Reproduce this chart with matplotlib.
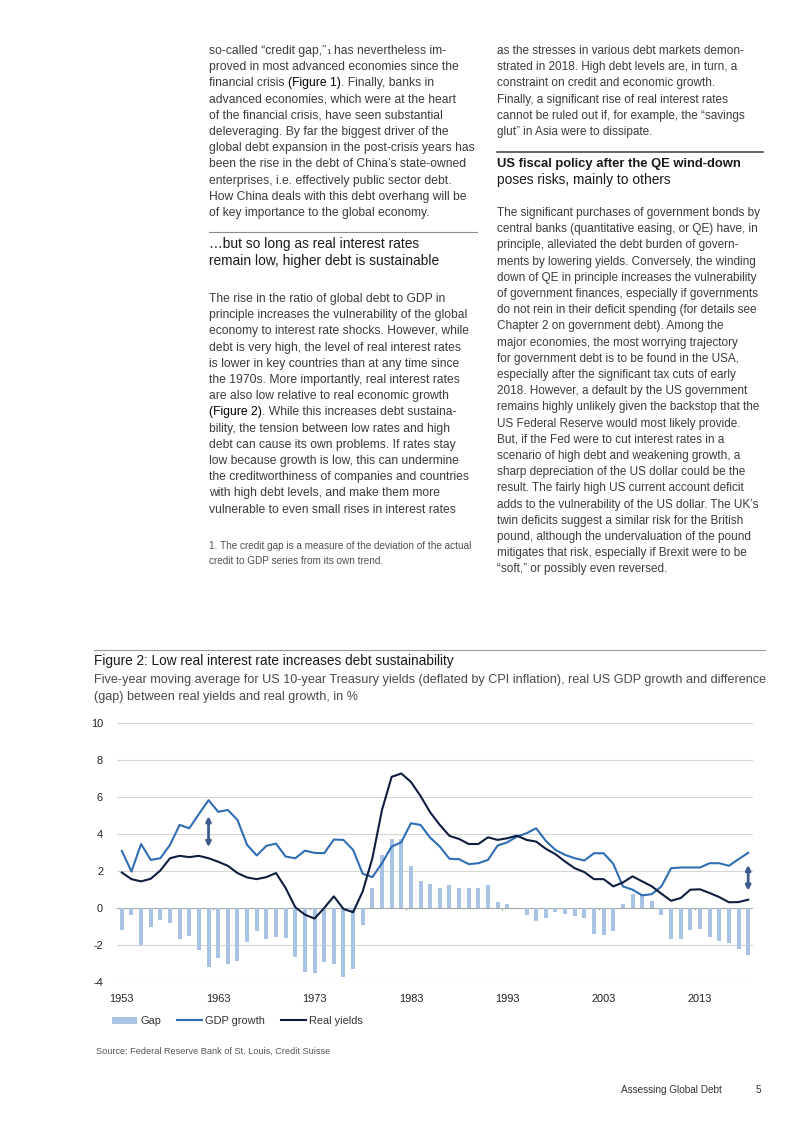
import matplotlib
matplotlib.use('Agg')
import matplotlib.pyplot as plt
import numpy as np

# page size in pixels
W, H = 802, 1133

years = list(range(1953, 2019))
gap = [-1.17, -0.40, -2.00, -1.00, -0.66, -0.80, -1.67, -1.53, -2.25, -3.20,
       -2.70, -3.00, -2.85, -1.83, -1.27, -1.67, -1.58, -1.63, -2.64, -3.45,
       -3.54, -2.90, -3.05, -3.75, -3.30, -0.92, 1.10, 2.87, 3.75, 3.73,
       2.26, 1.47, 1.31, 1.10, 1.24, 1.10, 1.10, 1.08, 1.24, 0.32,
       0.23, -0.02, -0.36, -0.72, -0.54, -0.23, -0.30, -0.41, -0.54, -1.40,
       -1.45, -1.24, 0.23, 0.75, 0.75, 0.36, -0.36, -1.70, -1.65, -1.18,
       -1.15, -1.56, -1.76, -1.90, -2.24, -2.55]
gdp = [3.09, 1.97, 3.46, 2.60, 2.69, 3.41, 4.49, 4.31, 5.08, 5.83,
       5.20, 5.30, 4.76, 3.41, 2.84, 3.36, 3.48, 2.78, 2.69, 3.10,
       2.98, 2.96, 3.70, 3.68, 3.14, 1.85, 1.67, 2.42, 3.32, 3.55,
       4.58, 4.49, 3.80, 3.32, 2.66, 2.64, 2.37, 2.42, 2.60, 3.38,
       3.55, 3.86, 4.04, 4.31, 3.63, 3.14, 2.87, 2.69, 2.57, 2.96,
       2.96, 2.39, 1.17, 0.99, 0.68, 0.75, 1.17, 2.15, 2.19, 2.19,
       2.19, 2.42, 2.42, 2.28, 2.64, 2.98]
real_yields = [1.92, 1.56, 1.44, 1.58, 2.03, 2.69, 2.82, 2.75, 2.82, 2.69,
               2.50, 2.28, 1.89, 1.65, 1.56, 1.67, 1.89, 1.08, 0.04, -0.36,
               -0.57, 0.00, 0.63, -0.05, -0.23, 0.90, 2.69, 5.30, 7.09, 7.27,
               6.82, 6.05, 5.17, 4.49, 3.90, 3.73, 3.46, 3.46, 3.82, 3.68,
               3.77, 3.91, 3.68, 3.59, 3.20, 2.91, 2.51, 2.15, 1.94, 1.56,
               1.56, 1.17, 1.38, 1.71, 1.44, 1.17, 0.77, 0.39, 0.54, 0.99,
               1.01, 0.81, 0.59, 0.31, 0.32, 0.45]
tick_years = [1953, 1963, 1973, 1983, 1993, 2003, 2013]
yticks = [-4, -2, 0, 2, 4, 6, 8, 10]
# double arrows marking the gap
arrow_years = [1962, 2018]
arrow_top = [4.97, 2.33]
arrow_bottom = [3.29, 0.93]

left_col = [
    [("so-called \u201ccredit gap,\u201d", 'body'), ("1", 'sup'), (" has nevertheless im-", 'body')],
    "proved in most advanced economies since the",
    [("financial crisis ", 'body'), ("(Figure 1)", 'ref'), (". Finally, banks in", 'body')],
    "advanced economies, which were at the heart",
    "of the financial crisis, have seen substantial",
    "deleveraging. By far the biggest driver of the",
    "global debt expansion in the post-crisis years has",
    "been the rise in the debt of China\u2019s state-owned",
    "enterprises, i.e. effectively public sector debt.",
    "How China deals with this debt overhang will be",
    "of key importance to the global economy.",
]
left_head = ["\u2026but so long as real interest rates",
             "remain low, higher debt is sustainable"]
left_body = [
    "The rise in the ratio of global debt to GDP in",
    "principle increases the vulnerability of the global",
    "economy to interest rate shocks. However, while",
    "debt is very high, the level of real interest rates",
    "is lower in key countries than at any time since",
    "the 1970s. More importantly, real interest rates",
    "are also low relative to real economic growth",
    [("(Figure 2)", 'ref'), (". While this increases debt sustaina-", 'body')],
    "bility, the tension between low rates and high",
    "debt can cause its own problems. If rates stay",
    "low because growth is low, this can undermine",
    "the creditworthiness of companies and countries",
    "with high debt levels, and make them more",
    "vulnerable to even small rises in interest rates",
]
footnote = ["1. The credit gap is a measure of the deviation of the actual",
            "credit to GDP series from its own trend."]
right_top = [
    "as the stresses in various debt markets demon-",
    "strated in 2018. High debt levels are, in turn, a",
    "constraint on credit and economic growth.",
    "Finally, a significant rise of real interest rates",
    "cannot be ruled out if, for example, the \u201csavings",
    "glut\u201d in Asia were to dissipate.",
]
right_body = [
    "The significant purchases of government bonds by",
    "central banks (quantitative easing, or QE) have, in",
    "principle, alleviated the debt burden of govern-",
    "ments by lowering yields. Conversely, the winding",
    "down of QE in principle increases the vulnerability",
    "of government finances, especially if governments",
    "do not rein in their deficit spending (for details see",
    "Chapter 2 on government debt). Among the",
    "major economies, the most worrying trajectory",
    "for government debt is to be found in the USA,",
    "especially after the significant tax cuts of early",
    "2018. However, a default by the US government",
    "remains highly unlikely given the backstop that the",
    "US Federal Reserve would most likely provide.",
    "But, if the Fed were to cut interest rates in a",
    "scenario of high debt and weakening growth, a",
    "sharp depreciation of the US dollar could be the",
    "result. The fairly high US current account deficit",
    "adds to the vulnerability of the US dollar. The UK\u2019s",
    "twin deficits suggest a similar risk for the British",
    "pound, although the undervaluation of the pound",
    "mitigates that risk, especially if Brexit were to be",
    "\u201csoft,\u201d or possibly even reversed.",
]

plt.rcParams['font.family'] = ['Liberation Sans', 'DejaVu Sans']

fig = plt.figure(figsize=(W / 100, H / 100), dpi=100)
renderer = fig.canvas.get_renderer()

styles = {
    'body': dict(fontsize=8.75, color='#3c3c3c'),
    'rbody': dict(fontsize=8.5, color='#3c3c3c'),
    'ref': dict(fontsize=8.75, color='#000000'),
    'sup': dict(fontsize=6.0, color='#3c3c3c'),
    'head': dict(fontsize=9.9, color='#1a1a1a'),
    'headb': dict(fontsize=9.4, color='#1a1a1a', fontweight='bold'),
    'note': dict(fontsize=7.2, color='#505050'),
}


def fx(px):
    return px / W


def fy(py):
    return 1 - py / H


def space_width(style):
    a = fig.text(0, 0, "x x", **styles[style])
    b = fig.text(0, 0, "xx", **styles[style])
    w = a.get_window_extent(renderer).width - b.get_window_extent(renderer).width
    a.remove()
    b.remove()
    return w


def put_line(x, y, line, style='body'):
    if isinstance(line, str):
        fig.text(fx(x), fy(y), line, va='baseline', ha='left', **styles[style])
        return
    for txt, st in line:
        lead = len(txt) - len(txt.lstrip(' '))
        trail = len(txt) - len(txt.rstrip(' '))
        sw = space_width(st)
        x += lead * sw
        t = fig.text(fx(x), fy(y), txt.strip(' '), va='baseline', ha='left', **styles[st])
        x += t.get_window_extent(renderer).width + trail * sw


def put_block(x, y0, lines, step=16.2, style='body'):
    for i, ln in enumerate(lines):
        put_line(x, y0 + i * step, ln, style)


# ---- text columns (baselines in px) ----
put_block(209, 54, left_col)
fig.add_artist(plt.Line2D([fx(209), fx(477)], [fy(232), fy(232)], color='#8c8c8c', lw=0.8))
put_block(209, 248, left_head, step=16.5, style='head')
put_block(209, 302, left_body)
put_block(209, 549, footnote, step=15.5, style='note')

put_block(497, 54, right_top, style='rbody')
fig.add_artist(plt.Line2D([fx(497), fx(763)], [fy(152), fy(152)], color='#3a3a3a', lw=1.1))
put_line(497, 167, "US fiscal policy after the QE wind-down", 'headb')
put_line(497, 184, "poses risks, mainly to others", 'head')
put_block(497, 216, right_body, style='rbody')

# ---- figure 2 ----
fig.add_artist(plt.Line2D([fx(94), fx(765)], [fy(650), fy(650)], color='#9a9a9a', lw=0.8))
fig.text(fx(94), fy(665), "Figure 2: Low real interest rate increases debt sustainability",
         fontsize=9.8, color='#1a1a1a', va='baseline')
fig.text(fx(94), fy(683), "Five-year moving average for US 10-year Treasury yields (deflated by CPI inflation), "
         "real US GDP growth and difference", fontsize=9.1, color='#4a4a4a', va='baseline')
fig.text(fx(94), fy(700), "(gap) between real yields and real growth, in %",
         fontsize=9.1, color='#4a4a4a', va='baseline')

ax = fig.add_axes([fx(117), fy(982), (753 - 117) / W, (982 - 723) / H])
bars = ax.bar(years, gap, width=0.42, color='#a9c3e5', label='Gap', zorder=2)
l1, = ax.plot(years, gdp, color='#2f6db5', lw=1.5, label='GDP growth', zorder=3)
l2, = ax.plot(years, real_yields, color='#0e1d40', lw=1.5, label='Real yields', zorder=4)

for yr, top, bot in zip(arrow_years, arrow_top, arrow_bottom):
    ax.annotate('', xy=(yr, bot), xytext=(yr, top),
                arrowprops=dict(arrowstyle='<|-|>', color='#3d5d8f', lw=2.0,
                                mutation_scale=7, shrinkA=0, shrinkB=0), zorder=5)

ax.set_xlim(1952.5, 2018.5)
ax.set_ylim(-4, 10)
ax.set_yticks(yticks)
ax.set_yticklabels([str(v) for v in yticks])
ax.set_xticks(tick_years)
ax.set_xticklabels([str(v) for v in tick_years])
ax.tick_params(axis='both', length=0, labelsize=7.9, labelcolor='#222222')
ax.tick_params(axis='y', pad=10)
ax.tick_params(axis='x', pad=9)
for s in ax.spines.values():
    s.set_visible(False)
for v in yticks:
    if v != 0:
        ax.axhline(v, color='#d6d6d6', lw=0.8, zorder=0)
ax.axhline(0, color='#a6a6a6', lw=0.8, zorder=1)
# small category tick marks on the zero line
minor = [t - 0.5 for t in tick_years[1:]]
ax.vlines(minor, -0.12, 0, color='#a6a6a6', lw=0.8, zorder=1)

leg = ax.legend([bars, l1, l2], ['Gap', 'GDP growth', 'Real yields'],
                loc='upper left', bbox_to_anchor=(fx(112), fy(1016)),
                bbox_transform=fig.transFigure, ncol=3, frameon=False,
                fontsize=7.9, handlelength=2.3, handletextpad=0.3,
                columnspacing=1.4, handleheight=0.6, borderpad=0, borderaxespad=0)
for t in leg.get_texts():
    t.set_color('#333333')

fig.text(fx(96), fy(1054), "Source: Federal Reserve Bank of St. Louis, Credit Suisse",
         fontsize=6.6, color='#555555', va='baseline')

fig.text(fx(621), fy(1093), "Assessing Global Debt", fontsize=7.2, color='#333333', va='baseline')
fig.text(fx(756), fy(1093), "5", fontsize=7.2, color='#333333', va='baseline')

fig.savefig('out.png', dpi=100)
